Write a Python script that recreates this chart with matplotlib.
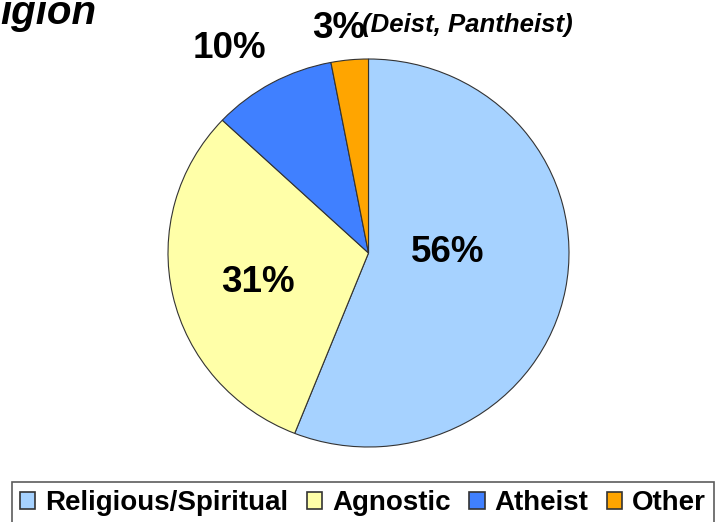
import matplotlib
matplotlib.use("Agg")
import matplotlib.pyplot as plt
from matplotlib.patches import Patch

plt.rcParams['font.family'] = ['Liberation Sans', 'DejaVu Sans']

# data
categories = ["Religious/Spiritual", "Agnostic", "Atheist", "Other"]
shares = [56, 31, 10, 3]
colors = ["#A6D2FF", "#FFFFA8", "#4080FF", "#FFA500"]
other_note = "(Deist, Pantheist)"

W, H = 726, 522
fig = plt.figure(figsize=(W / 100, H / 100), dpi=100)

# axes box placed so the pie fills the pixel area of the original
x0, x1, y0, y1 = 168, 569, 59, 447
ax = fig.add_axes([x0 / W, 1 - y1 / H, (x1 - x0) / W, (y1 - y0) / H])
wedges, _ = ax.pie(shares, colors=colors, startangle=90, counterclock=False,
                   radius=1, frame=False,
                   wedgeprops=dict(edgecolor="#333333", linewidth=0.8))
ax.set_aspect("auto")
ax.set_xlim(-1, 1)
ax.set_ylim(-1, 1)

def px(x, y):
    return x / W, 1 - y / H

big = dict(fontsize=26.5, fontweight="bold", color="black")
fig.text(*px(448, 252), f"{shares[0]}%", ha="center", va="center", **big)
fig.text(*px(258, 283), f"{shares[1]}%", ha="center", va="center", **big)
fig.text(*px(229, 49), f"{shares[2]}%", ha="center", va="center", **big)
fig.text(*px(312, 38), f"{shares[3]}%", ha="left", va="baseline", **big)
fig.text(*px(362, 32), other_note, ha="left", va="baseline",
         fontsize=18.5, fontweight="bold", fontstyle="italic")

# title, cut off at the left edge in the original
fig.text(*px(0, 24), "igion", ha="left", va="baseline",
         fontsize=29, fontweight="bold", fontstyle="italic")

handles = [Patch(facecolor=c, edgecolor="#333333", linewidth=1.2) for c in colors]
leg = fig.legend(handles, categories, loc="upper center", ncol=4,
                 bbox_to_anchor=(0.5, 1 - 482 / H), frameon=True, fancybox=False,
                 prop=dict(size=20, weight="bold"),
                 handlelength=0.55, handleheight=0.55, handletextpad=0.35,
                 columnspacing=0.68, borderpad=0.3, borderaxespad=0)
leg.get_frame().set_edgecolor("#333333")
leg.get_frame().set_linewidth(1.2)

fig.savefig("out.png", dpi=100)
